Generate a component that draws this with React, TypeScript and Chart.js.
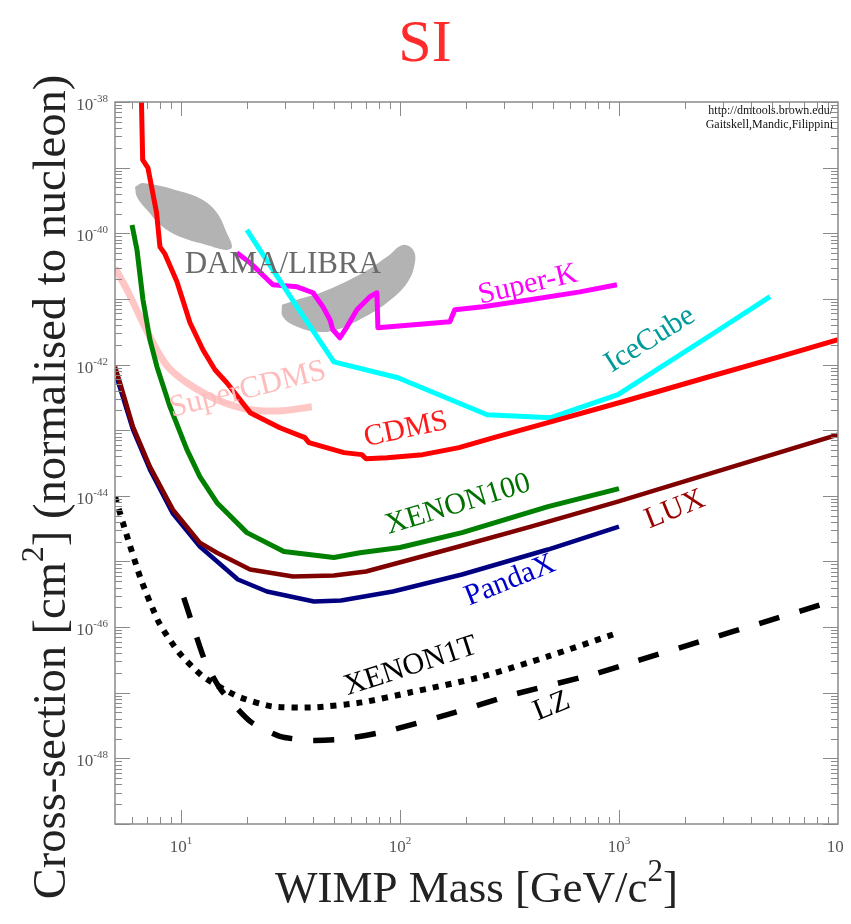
import React, { useEffect, useRef } from 'react';
import { Chart, registerables } from 'chart.js';

Chart.register(...registerables);

const FONT = "'Liberation Serif', 'Times New Roman', serif";

// ---- data (WIMP mass in GeV/c^2, cross-section in cm^2) ----
const cdmsMass = [6.6, 6.69, 7.07, 7.74, 8.02, 8.45, 9.59, 11.0, 12.6, 14.3, 16.2, 20.7, 28.3, 36.8, 38.4, 55.5, 67.0, 70.0, 87.3, 127, 186, 268, 474, 1000, 2578, 5433, 10000];
const cdmsSigma = [1.07e-38, 1.31e-39, 9.89e-40, 2.05e-40, 6.21e-41, 4.85e-41, 1.82e-41, 4.33e-42, 1.68e-42, 8.34e-43, 5.28e-43, 1.85e-43, 1.09e-43, 7.69e-44, 6.45e-44, 4.55e-44, 4.24e-44, 3.68e-44, 3.81e-44, 4.24e-44, 5.42e-44, 7.69e-44, 1.3e-43, 2.62e-43, 6.52e-43, 1.32e-42, 2.39e-42];

const xenon100Mass = [5.98, 6.3, 6.71, 7.22, 7.77, 8.91, 10.65, 12.2, 14.6, 20.0, 29.5, 49.9, 65.7, 100, 192, 474, 1000];
const xenon100Sigma = [1.34e-40, 5.58e-41, 9.68e-42, 2.38e-42, 9.27e-43, 2.28e-43, 5.05e-44, 1.96e-44, 7.87e-45, 2.75e-45, 1.42e-45, 1.15e-45, 1.36e-45, 1.63e-45, 2.75e-45, 6.85e-45, 1.29e-44];

const luxMass = [5.0, 5.27, 6.04, 7.22, 9.19, 12.2, 14.6, 20.7, 32.5, 49.9, 70.0, 186, 396, 988, 10000];
const luxSigma = [9.27e-43, 5.28e-43, 1.13e-43, 2.78e-44, 6.17e-45, 1.94e-45, 1.36e-45, 7.53e-46, 5.89e-46, 6.1e-46, 7.02e-46, 1.69e-45, 3.4e-45, 8.17e-45, 8.55e-44];

const pandaxMass = [5.1, 6.04, 7.22, 9.19, 12.2, 18.2, 24.7, 40.5, 53.8, 92.9, 192, 474, 1000];
const pandaxSigma = [6.3e-43, 1.02e-43, 2.51e-44, 5.36e-45, 1.69e-45, 5.31e-46, 3.48e-46, 2.45e-46, 2.54e-46, 3.48e-46, 6.33e-46, 1.52e-45, 3.4e-45];

const xenon1tMass = [5.0, 5.61, 6.57, 7.94, 9.79, 12.6, 18.2, 26.0, 40.5, 67.1, 111, 230, 474, 1000];
const xenon1tSigma = [9.72e-45, 2.75e-45, 5.31e-46, 1.17e-46, 4.1e-47, 1.77e-47, 8.79e-48, 6.19e-48, 5.98e-48, 7.12e-48, 1.01e-47, 1.71e-47, 3.57e-47, 8.28e-47];

const lzMass = [10.3, 11.1, 12.9, 15.2, 20.7, 28.3, 38.8, 53.8, 86.3, 166, 318, 760, 1183, 10000];
const lzSigma = [2.82e-46, 1.31e-46, 3.0e-47, 1.12e-47, 3.66e-48, 2.16e-48, 1.88e-48, 1.95e-48, 2.58e-48, 4.67e-48, 9.1e-48, 1.9e-47, 3.0e-47, 2.63e-46];

const superCdmsMass = [5.0, 5.67, 6.5, 7.45, 8.63, 10.65, 14.6, 20.7, 29.2, 39.6];
const superCdmsSigma = [2.97e-41, 1.38e-41, 5.35e-42, 2.15e-42, 9.6e-43, 5.28e-43, 2.91e-43, 2.05e-43, 1.98e-43, 2.28e-43];

const iceCubeMass = [20.0, 33.9, 49.9, 97.9, 250, 489, 989, 2862, 4893];
const iceCubeSigma = [1.13e-40, 7.59e-42, 1.1e-42, 6.3e-43, 1.72e-43, 1.55e-43, 3.47e-43, 3.39e-42, 1.08e-41];

const superKMass = [18.0, 20.7, 26.3, 33.9, 40.1, 44.5, 47.9, 49.4, 53.2, 57.3, 63.6, 72.9, 78.5, 79.3, 169, 178, 239, 392, 664, 979];
const superKSigma = [5.03e-41, 3.54e-41, 1.64e-41, 1.53e-41, 1.24e-41, 7.59e-42, 4.81e-42, 3.39e-42, 2.56e-42, 3.76e-42, 6.82e-42, 1.08e-41, 1.24e-41, 3.63e-42, 4.48e-42, 6.82e-42, 7.59e-42, 9.68e-42, 1.28e-41, 1.64e-41];

const dama1Mass = [6.17, 6.71, 10.2, 12.6, 14.6, 16.2, 17.1, 16.2, 13.1, 10.2, 8.28, 7.0, 6.3, 6.17];
const dama1Sigma = [5.08e-40, 5.85e-40, 4.27e-40, 3.22e-40, 2.05e-40, 1.01e-40, 6.21e-41, 5.58e-41, 6.65e-41, 8.51e-41, 1.25e-40, 2.27e-40, 3.58e-40, 5.08e-40];

const dama2Mass = [28.9, 33.9, 44.5, 67.8, 87.2, 103, 115, 117, 108, 87.2, 67.8, 51.6, 41.8, 33.9, 29.2, 28.9];
const dama2Sigma = [8.13e-42, 9.68e-42, 1.28e-41, 2.5e-41, 4.37e-41, 6.65e-41, 5.58e-41, 3.54e-41, 1.76e-41, 8.73e-42, 5.15e-42, 3.39e-42, 3.16e-42, 3.76e-42, 5.35e-42, 8.13e-42];

// curve labels, anchored in data coordinates
const labelTexts = ['Super-K', 'IceCube', 'CDMS', 'XENON100', 'LUX', 'PandaX', 'XENON1T', 'LZ', 'DAMA/LIBRA', 'SuperCDMS'];
const labelMass = [384, 1386, 106.5, 184, 1802, 318, 112, 494, 29.2, 20.2];
const labelSigma = [1.64e-41, 2.39e-42, 1.02e-43, 7.35e-45, 6.17e-45, 5.12e-46, 2.51e-47, 6.18e-48, 3.3e-41, 4.13e-43];

// axis ranges & tick labels
const xMin = 5;
const xMax = 10000;
const yMin = 1e-49;
const yMax = 1e-38;
const xLabelExponents = [1, 2, 3, 4];
const yLabelExponents = [-38, -40, -42, -44, -46, -48];

const labelStyles = [
  { color: '#ff00ff', angle: -13, size: 30 },
  { color: '#009a9a', angle: -32, size: 30 },
  { color: '#ff1a1a', angle: -12, size: 30 },
  { color: '#007000', angle: -17, size: 30 },
  { color: '#990000', angle: -22, size: 30 },
  { color: '#0000cd', angle: -22, size: 30 },
  { color: '#000000', angle: -18, size: 30 },
  { color: '#000000', angle: -22, size: 30 },
  { color: '#6a6a6a', angle: 0, size: 31 },
  { color: '#ffbcbc', angle: -14, size: 31 },
];

const pts = (m: number[], s: number[]) => m.map((x, i) => ({ x, y: s[i] }));

type Part = { t: string; size: number; rise: number };
function drawRich(ctx: CanvasRenderingContext2D, parts: Part[], x: number, y: number, align: 'left' | 'center' | 'right') {
  let total = 0;
  const widths = parts.map((p) => {
    ctx.font = `${p.size}px ${FONT}`;
    const w = ctx.measureText(p.t).width;
    total += w;
    return w;
  });
  let cx = align === 'left' ? x : align === 'center' ? x - total / 2 : x - total;
  ctx.textAlign = 'left';
  ctx.textBaseline = 'alphabetic';
  parts.forEach((p, i) => {
    ctx.font = `${p.size}px ${FONT}`;
    ctx.fillText(p.t, cx, y - p.rise);
    cx += widths[i];
  });
}

const overlayPlugin = {
  id: 'overlay',
  afterDatasetsDraw(chart: any) {
    const { ctx } = chart;
    const xs = chart.scales.x;
    const ys = chart.scales.y;
    labelTexts.forEach((t, i) => {
      const st = labelStyles[i];
      ctx.save();
      ctx.translate(xs.getPixelForValue(labelMass[i]), ys.getPixelForValue(labelSigma[i]));
      ctx.rotate((st.angle * Math.PI) / 180);
      ctx.font = `${st.size}px ${FONT}`;
      ctx.fillStyle = st.color;
      ctx.textAlign = 'center';
      ctx.textBaseline = 'middle';
      ctx.fillText(t, 0, 0);
      ctx.restore();
    });
  },
  afterDraw(chart: any) {
    const { ctx, chartArea: a } = chart;
    const xs = chart.scales.x;
    const ys = chart.scales.y;
    ctx.save();
    // frame
    ctx.strokeStyle = '#8a8a8a';
    ctx.lineWidth = 1.5;
    ctx.strokeRect(a.left, a.top, a.right - a.left, a.bottom - a.top);
    // ticks (inward on all four sides)
    ctx.lineWidth = 1;
    ctx.beginPath();
    const xDecades = [0, 1, 2, 3, 4];
    xDecades.forEach((d) => {
      for (let k = 1; k <= 9; k++) {
        const v = k * Math.pow(10, d);
        if (v <= xMin || v >= xMax) continue;
        const px = Math.round(xs.getPixelForValue(v)) + 0.5;
        const len = k === 1 ? 14 : 7;
        ctx.moveTo(px, a.bottom); ctx.lineTo(px, a.bottom - len);
        ctx.moveTo(px, a.top); ctx.lineTo(px, a.top + len);
      }
    });
    for (let e = -49; e <= -38; e++) {
      for (let k = 1; k <= 9; k++) {
        const v = k * Math.pow(10, e);
        if (v <= yMin * 0.999 || v >= yMax * 1.001) continue;
        const py = Math.round(ys.getPixelForValue(v)) + 0.5;
        const len = k === 1 ? 15 : 7;
        ctx.moveTo(a.left, py); ctx.lineTo(a.left + len, py);
        ctx.moveTo(a.right, py); ctx.lineTo(a.right - len, py);
      }
    }
    ctx.stroke();
    // tick labels
    ctx.fillStyle = '#555555';
    yLabelExponents.forEach((e) => {
      const py = ys.getPixelForValue(Math.pow(10, e));
      drawRich(ctx, [{ t: '10', size: 17, rise: 0 }, { t: String(e), size: 11, rise: 8 }], a.left - 7, py + 8, 'right');
    });
    xLabelExponents.forEach((e) => {
      const px = xs.getPixelForValue(Math.pow(10, e));
      drawRich(ctx, [{ t: '10', size: 17, rise: 0 }, { t: String(e), size: 11, rise: 8 }], px, a.bottom + 28, 'center');
    });
    // title
    ctx.fillStyle = '#ff2b2b';
    drawRich(ctx, [{ t: 'SI', size: 60, rise: 0 }], 417, 53, 'center');
    // axis titles
    ctx.fillStyle = '#222222';
    drawRich(ctx, [
      { t: 'WIMP Mass [GeV/c', size: 45, rise: 0 },
      { t: '2', size: 31, rise: 21 },
      { t: ']', size: 45, rise: 0 },
    ], (a.left + a.right) / 2, 894, 'center');
    ctx.save();
    ctx.translate(57, 479);
    ctx.rotate(-Math.PI / 2);
    drawRich(ctx, [
      { t: 'Cross-section [cm', size: 46.5, rise: 0 },
      { t: '2', size: 32, rise: 22 },
      { t: '] (normalised to nucleon)', size: 46.5, rise: 0 },
    ], 0, 0, 'center');
    ctx.restore();
    // credit
    ctx.fillStyle = '#111111';
    drawRich(ctx, [{ t: 'http://dmtools.brown.edu/', size: 12, rise: 0 }], 825, 106, 'right');
    drawRich(ctx, [{ t: 'Gaitskell,Mandic,Filippini', size: 12, rise: 0 }], 825, 120, 'right');
    ctx.restore();
  },
};

export default function App() {
  const ref = useRef<HTMLCanvasElement | null>(null);
  useEffect(() => {
    if (!ref.current) return;
    const line = (label: string, m: number[], s: number[], color: string, width: number, extra: any = {}) => ({
      label,
      data: pts(m, s),
      borderColor: color,
      borderWidth: width,
      pointRadius: 0,
      fill: false,
      tension: 0,
      borderJoinStyle: 'round',
      order: 1,
      ...extra,
    });
    const blob = (label: string, m: number[], s: number[]) => ({
      label,
      data: pts(m, s),
      borderColor: 'rgba(0,0,0,0)',
      borderWidth: 0,
      backgroundColor: '#b3b3b3',
      fill: 'shape',
      tension: 0.4,
      pointRadius: 0,
      order: 10,
    });
    const chart = new Chart(ref.current, {
      type: 'line',
      data: {
        datasets: [
          line('CDMS', cdmsMass, cdmsSigma, '#ff0000', 5),
          line('XENON100', xenon100Mass, xenon100Sigma, '#008000', 5),
          line('LUX', luxMass, luxSigma, '#800000', 4.5),
          line('PandaX', pandaxMass, pandaxSigma, '#000080', 4.5, { order: 2 }),
          line('XENON1T', xenon1tMass, xenon1tSigma, '#000000', 6, { borderDash: [6, 7], borderCapStyle: 'butt', tension: 0.2 }),
          line('LZ', lzMass, lzSigma, '#000000', 5.5, { borderDash: [21, 21], borderCapStyle: 'butt', tension: 0.2 }),
          line('SuperCDMS', superCdmsMass, superCdmsSigma, '#ffc6c6', 7, { tension: 0.3, order: 3 }),
          line('IceCube', iceCubeMass, iceCubeSigma, '#00ffff', 5),
          line('Super-K', superKMass, superKSigma, '#ff00ff', 5),
          blob('DAMA/LIBRA a', dama1Mass, dama1Sigma),
          blob('DAMA/LIBRA b', dama2Mass, dama2Sigma),
        ] as any,
      },
      options: {
        animation: false,
        responsive: false,
        devicePixelRatio: 1,
        layout: { padding: { top: 94, right: 13, left: 0, bottom: 0 } },
        plugins: { legend: { display: false }, tooltip: { enabled: false }, title: { display: false } },
        events: [],
        scales: {
          x: {
            type: 'logarithmic',
            min: xMin,
            max: xMax,
            grid: { display: false },
            border: { display: false },
            ticks: { display: false },
            afterFit: (s: any) => { s.height = 92; s.paddingLeft = 0; s.paddingRight = 0; },
          },
          y: {
            type: 'logarithmic',
            min: yMin,
            max: yMax,
            grid: { display: false },
            border: { display: false },
            ticks: { display: false },
            afterFit: (s: any) => { s.width = 107; s.paddingTop = 0; s.paddingBottom = 0; },
          },
        },
      } as any,
      plugins: [overlayPlugin],
    });
    return () => chart.destroy();
  }, []);
  return (
    <div style={{ width: 843, height: 908 }}>
      <canvas ref={ref} width={843} height={908} style={{ display: 'block' }} />
    </div>
  );
}
